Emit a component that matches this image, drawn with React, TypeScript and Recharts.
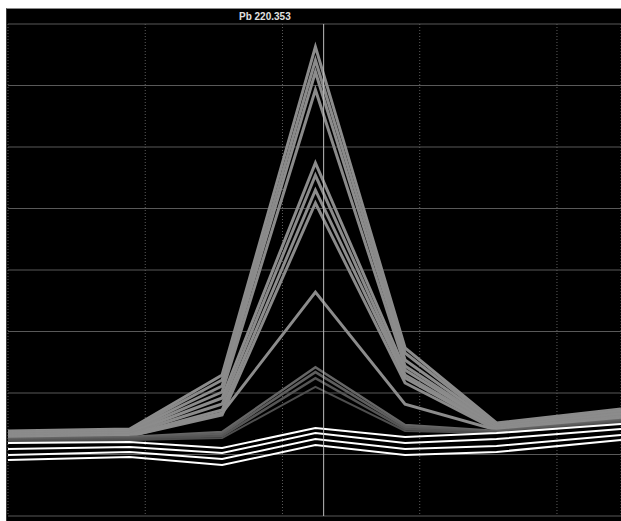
import React from "react";
import { CartesianGrid, Line, LineChart, ReferenceLine, XAxis, YAxis } from "recharts";

// scan positions (arbitrary units, grid every 1.5)
const positions = [0, 1.33, 2.34, 3.36, 4.34, 5.34, 6.7];
const xTicks = [0, 1.5, 3, 4.5, 6];
const yTicks = [0, 10000, 20000, 30000, 40000, 50000, 60000, 70000, 80000];
const centerLine = 3.45; // Pb 220.353

// strong standards
const tall1 = [13820, 14150, 22930, 76300, 27320, 15120, 17400];
const tall2 = [13660, 13980, 22110, 74100, 26500, 14960, 17240];
const tall3 = [13500, 13820, 21140, 72200, 25370, 14800, 17070];
const tall4 = [13330, 13660, 20160, 69300, 24390, 14630, 16750];
// mid standards
const mid1 = [13170, 13500, 19190, 57400, 23740, 14470, 16590];
const mid2 = [13010, 13330, 18210, 55400, 22930, 14310, 16260];
const mid3 = [12850, 13170, 17240, 53000, 22440, 14150, 16100];
const mid4 = [12680, 13010, 16420, 50900, 21630, 13980, 15770];
const single = [12680, 13010, 16750, 36400, 18200, 13980, 15930];
// low standards
const low1 = [12520, 12850, 13660, 24200, 14800, 13820, 15610];
const low2 = [12360, 12680, 13330, 23400, 14470, 13660, 15450];
const low3 = [12200, 12520, 13010, 22400, 14150, 13500, 15280];
const low4 = [12040, 12360, 12680, 21000, 13820, 13500, 15120];
// blanks
const blank1 = [11870, 12030, 11060, 14310, 12850, 13500, 14960];
const blank2 = [10890, 11220, 10240, 13500, 11870, 12520, 14150];
const blank3 = [9920, 10410, 9270, 12520, 10890, 11380, 13170];
const blank4 = [9110, 9590, 8290, 11540, 9920, 10410, 12360];

const series: { key: string; values: number[]; color: string; width: number }[] = [
  { key: "tall1", values: tall1, color: "#8c8c8c", width: 3 },
  { key: "tall2", values: tall2, color: "#8a8a8a", width: 3 },
  { key: "tall3", values: tall3, color: "#8c8c8c", width: 3 },
  { key: "tall4", values: tall4, color: "#8a8a8a", width: 3 },
  { key: "mid1", values: mid1, color: "#8c8c8c", width: 3 },
  { key: "mid2", values: mid2, color: "#8a8a8a", width: 3 },
  { key: "mid3", values: mid3, color: "#8c8c8c", width: 3 },
  { key: "mid4", values: mid4, color: "#8a8a8a", width: 3 },
  { key: "single", values: single, color: "#8c8c8c", width: 3 },
  { key: "low1", values: low1, color: "#666666", width: 2.5 },
  { key: "low2", values: low2, color: "#5e5e5e", width: 2.5 },
  { key: "low3", values: low3, color: "#555555", width: 2.5 },
  { key: "low4", values: low4, color: "#4e4e4e", width: 2 },
  { key: "blank1", values: blank1, color: "#ffffff", width: 2 },
  { key: "blank2", values: blank2, color: "#ffffff", width: 2 },
  { key: "blank3", values: blank3, color: "#ffffff", width: 2 },
  { key: "blank4", values: blank4, color: "#ffffff", width: 2 },
];

const rows = positions.map((x, i) => {
  const r: Record<string, number> = { x };
  series.forEach((s) => (r[s.key] = s.values[i]));
  return r;
});

export default function App() {
  return (
    <div
      style={{
        position: "absolute",
        left: 6,
        top: 8,
        width: 615,
        height: 513,
        background: "#000",
        borderTop: "1px solid #8a8a8a",
        borderLeft: "1px solid #3a3a3a",
        boxSizing: "border-box",
        overflow: "hidden",
      }}
    >
      <div
        style={{
          position: "absolute",
          left: 232,
          top: 0,
          height: 15,
          lineHeight: "15px",
          fontFamily: "'Liberation Sans', Arial, sans-serif",
          fontSize: 10,
          fontWeight: "bold",
          color: "#e0e0e0",
        }}
      >
        Pb 220.353
      </div>
      <LineChart
        width={614}
        height={512}
        data={rows}
        margin={{ top: 15, right: 0, left: 1, bottom: 5 }}
      >
        <CartesianGrid stroke="#595959" vertical={false} />
        <CartesianGrid stroke="#5c5c5c" horizontal={false} strokeDasharray="1 2" />
        <XAxis type="number" dataKey="x" domain={[0, 6.7]} ticks={xTicks} hide />
        <YAxis type="number" domain={[0, 80000]} ticks={yTicks} hide />
        {series.map((s) => (
          <Line
            key={s.key}
            dataKey={s.key}
            type="linear"
            stroke={s.color}
            strokeWidth={s.width}
            dot={false}
            isAnimationActive={false}
          />
        ))}
        <ReferenceLine x={centerLine} stroke="#bdbdbd" strokeWidth={1} />
      </LineChart>
    </div>
  );
}
